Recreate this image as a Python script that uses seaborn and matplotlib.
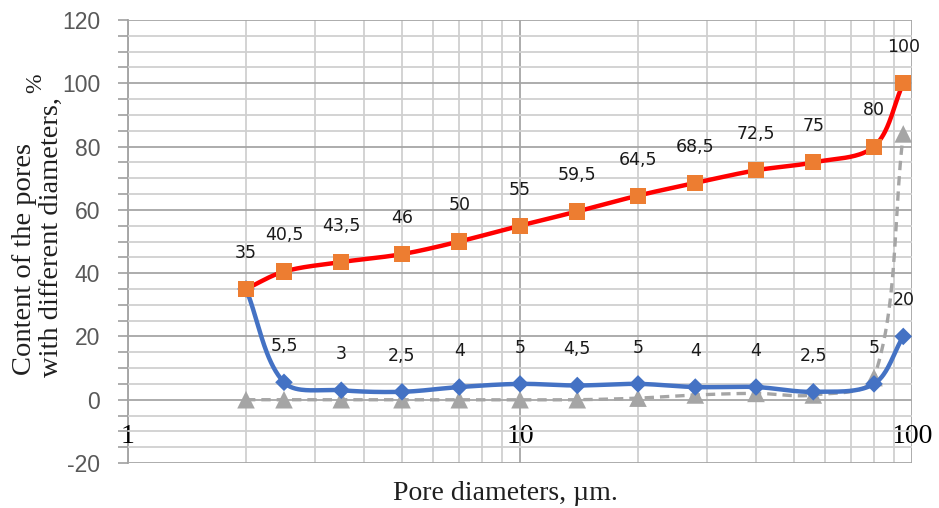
import numpy as np
import pandas as pd
import matplotlib
matplotlib.use("Agg")
import matplotlib.pyplot as plt
import seaborn as sns
from matplotlib.ticker import FixedLocator, MultipleLocator, NullFormatter

# Pore diameters, µm (log axis)
diameters = [2, 2.5, 3.5, 5, 7, 10, 14, 20, 28, 40, 56, 80, 95]
# Cumulative content, %
cumulative = [35, 40.5, 43.5, 46, 50, 55, 59.5, 64.5, 68.5, 72.5, 75, 80, 100]
# Content of pores of each diameter, %
content = [35, 5.5, 3, 2.5, 4, 5, 4.5, 5, 4, 4, 2.5, 5, 20]
# Third series (no value labels)
third = [0, 0, 0, 0, 0, 0, 0, 0.5, 1.5, 2, 1.5, 7, 84]

x_ticks = [1, 10, 100]
x_tick_labels = ["1", "10", "100"]
y_ticks = [-20, 0, 20, 40, 60, 80, 100, 120]

sns.set_style("white")
plt.rcParams["font.family"] = ["DejaVu Sans"]
plt.rcParams["axes.unicode_minus"] = False

fig = plt.figure(figsize=(9.39, 5.08), dpi=100)
ax = fig.add_axes([128 / 939, 45 / 508, 784 / 939, 443 / 508])

PX_DEC = 392.0   # pixels per decade along x
PX_UNIT = 3.164  # pixels per % along y


def smooth(xs, ys, n=40, tension=1 / 3):
    """Bezier smoothing through the points with tangents scaled by
    neighbouring segment lengths, computed in screen-like space."""
    P = np.column_stack([np.log10(xs) * PX_DEC, np.asarray(ys, float) * PX_UNIT])
    out = []
    t = np.linspace(0, 1, n)[:, None]
    last = len(P) - 1
    for i in range(last):
        p0 = P[max(i - 1, 0)]
        p1 = P[i]
        p2 = P[i + 1]
        p3 = P[min(i + 2, last)]
        d01 = np.hypot(*(p1 - p0))
        d12 = np.hypot(*(p2 - p1))
        d23 = np.hypot(*(p3 - p2))
        f1 = d12 / (d01 + d12) if d01 + d12 > 0 else 0
        f2 = d12 / (d12 + d23) if d12 + d23 > 0 else 0
        c1 = p1 + (p2 - p0) * tension * f1
        c2 = p2 - (p3 - p1) * tension * f2
        seg = ((1 - t) ** 3) * p1 + 3 * ((1 - t) ** 2) * t * c1 \
            + 3 * (1 - t) * t ** 2 * c2 + t ** 3 * p2
        out.append(seg if i == 0 else seg[1:])
    out = np.vstack(out)
    return 10 ** (out[:, 0] / PX_DEC), out[:, 1] / PX_UNIT


df = pd.DataFrame({"d": diameters, "cum": cumulative,
                   "content": content, "third": third})

# third series: gray dashed with triangles
gx, gy = smooth(df["d"], df["third"])
sns.lineplot(x=gx, y=gy, sort=False, estimator=None, ax=ax, color="#A5A5A5",
             lw=2.4, linestyle=(0, (2.8, 1.8)), zorder=3)
sns.scatterplot(data=df, x="d", y="third", marker="^", s=160, color="#A5A5A5",
                edgecolor="none", ax=ax, zorder=4)

# content series: blue with diamonds
bx, by = smooth(df["d"], df["content"])
sns.lineplot(x=bx, y=by, sort=False, estimator=None, ax=ax, color="#4472C4",
             lw=3.2, zorder=5)
sns.scatterplot(data=df, x="d", y="content", marker="D", s=80, color="#4472C4",
                edgecolor="none", ax=ax, zorder=6)

# cumulative series: red line with orange squares
rx, ry = smooth(df["d"], df["cum"])
sns.lineplot(x=rx, y=ry, sort=False, estimator=None, ax=ax, color="#FF0000",
             lw=3.2, zorder=7)
sns.scatterplot(data=df, x="d", y="cum", marker="s", s=135, color="#ED7D31",
                edgecolor="none", ax=ax, zorder=8)


def fmt(v):
    return f"{v:g}".replace(".", ",")


label_kw = dict(textcoords="offset points", xytext=(0, 26), ha="center",
                va="center", fontsize=12.5, color="#1a1a1a", zorder=10)
for xv, yv in zip(diameters, cumulative):
    ax.annotate(fmt(yv), (xv, yv), **label_kw)
for xv, yv in list(zip(diameters, content))[1:]:
    ax.annotate(fmt(yv), (xv, yv), **label_kw)

# axes, scales and grid
ax.set_xscale("log")
ax.set_xlim(1, 100)
ax.set_ylim(-20, 120)
ax.set_xticks(x_ticks, x_tick_labels)
ax.xaxis.set_minor_locator(FixedLocator(
    [m * 10 ** e for e in range(0, 2) for m in range(2, 10)]))
ax.xaxis.set_minor_formatter(NullFormatter())
ax.set_yticks(y_ticks)
ax.yaxis.set_minor_locator(MultipleLocator(5))

ax.grid(which="major", axis="both", color="#A6A6A6", lw=1.3, zorder=0)
ax.grid(which="minor", axis="both", color="#D0D0D0", lw=1.3, zorder=0)
ax.set_axisbelow(True)

for side in ["top", "right", "bottom"]:
    ax.spines[side].set_visible(False)
ax.spines["left"].set_color("#A0A0A0")
ax.spines["left"].set_linewidth(1.3)
ax.spines["left"].set_zorder(0.3)

ax.tick_params(axis="y", which="both", direction="out", length=7,
               width=1.2, color="#A0A0A0", left=True, pad=13)
ax.tick_params(axis="y", which="major", labelsize=16.5, labelcolor="#595959")
for lab in ax.get_yticklabels():
    lab.set_family("Liberation Sans")
ax.tick_params(axis="x", which="both", length=0, pad=-28)
for lab in ax.get_xticklabels():
    lab.set_family("Liberation Serif")
    lab.set_fontsize(20)
    lab.set_color("black")

ax.set_xlabel("")
ax.set_ylabel("")

# axis titles
fig.text(505 / 939, 1 - 493 / 508, "Pore diameters, µm.", ha="center",
         va="center", family="Liberation Serif", fontsize=20, color="#1f1f1f")
fig.text(25 / 939, 1 - 259 / 508, "Content of the pores", rotation=90,
         ha="center", va="center", family="Liberation Serif", fontsize=20.5,
         color="#1f1f1f")
fig.text(51 / 939, 1 - 237 / 508, "with different diameters,", rotation=90,
         ha="center", va="center", family="Liberation Serif", fontsize=20.5,
         color="#1f1f1f")
fig.text(36 / 939, 1 - 83 / 508, "%", rotation=90, ha="center", va="center",
         family="Liberation Serif", fontsize=17, color="#1f1f1f")

fig.savefig("out.png", dpi=100)
